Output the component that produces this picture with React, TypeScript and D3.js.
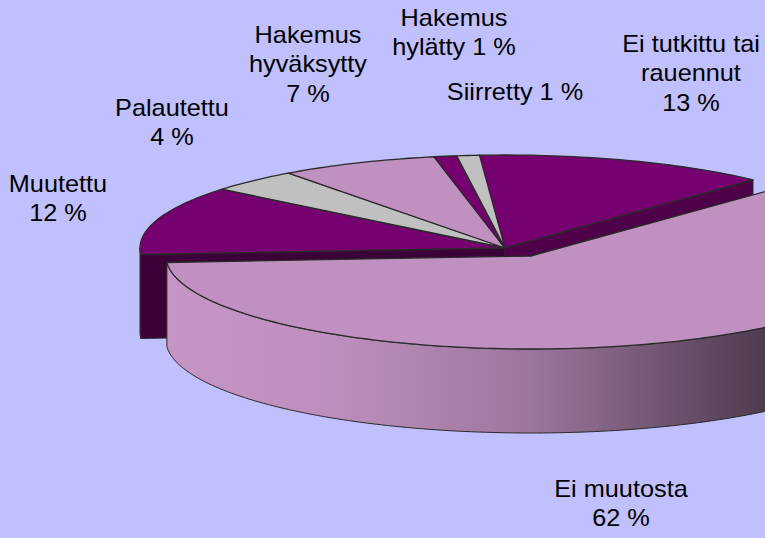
import React, { useEffect } from 'react';
import * as d3 from 'd3';

// slices, clockwise from the top
const categories = ['Ei tutkittu tai rauennut', 'Ei muutosta', 'Muutettu', 'Palautettu', 'Hakemus hyväksytty', 'Hakemus hylätty', 'Siirretty'];
const values = [13, 62, 12, 4, 7, 1, 1];
const labelLines = [
  ['Ei tutkittu tai', 'rauennut', '13 %'],
  ['Ei muutosta', '62 %'],
  ['Muutettu', '12 %'],
  ['Palautettu', '4 %'],
  ['Hakemus', 'hyväksytty', '7 %'],
  ['Hakemus', 'hylätty 1 %'],
  ['Siirretty 1 %'],
];
const sliceColors = ['#770070', '#C090C0', '#770070', '#C0C0C0', '#C090C0', '#770070', '#C0C0C0'];
const exploded = 'Ei muutosta';

// layout
const W = 765, H = 538;
const cx = 505, cy = 248, rx = 365, ry = 93, depth = 84;
const startDeg = -4;
const explodeOffset = { dx: 26, dy: 8 };
const labelPos = [
  { x: 691, y: 52 },
  { x: 621, y: 497 },
  { x: 58, y: 192 },
  { x: 172, y: 116 },
  { x: 308, y: 43 },
  { x: 454, y: 26 },
  { x: 515, y: 100 },
];
const lineGap = 29.5;

const rad = (d: number) => (d * Math.PI) / 180;

const App: React.FC = () => {
  useEffect(() => {
    document.body.style.margin = '0';
  }, []);

  const pie = d3.pie<number>().sort(null).startAngle(rad(startDeg)).endAngle(rad(360 + startDeg));
  const arcs = pie(values);
  const line = d3.line();

  const pt = (a: number, ox: number, oy: number, dz = 0): [number, number] =>
    [cx + ox + rx * Math.sin(a), cy + oy - ry * Math.cos(a) + dz];

  const arcPts = (a0: number, a1: number, ox: number, oy: number, dz = 0) => {
    const n = Math.max(2, Math.ceil(Math.abs(a1 - a0) / 0.02));
    return d3.range(n + 1).map(i => pt(a0 + ((a1 - a0) * i) / n, ox, oy, dz));
  };

  const topPath = (a0: number, a1: number, ox: number, oy: number) =>
    line([[cx + ox, cy + oy], ...arcPts(a0, a1, ox, oy)])! + 'Z';

  const rimPath = (a0: number, a1: number, ox: number, oy: number) => {
    const lo = Math.max(a0, Math.PI / 2);
    const hi = Math.min(a1, (3 * Math.PI) / 2);
    if (lo >= hi) return null;
    return line([...arcPts(lo, hi, ox, oy), ...arcPts(hi, lo, ox, oy, depth)])! + 'Z';
  };

  const wallPath = (a: number, ox: number, oy: number) => {
    const [x, y] = pt(a, ox, oy);
    return line([[cx + ox, cy + oy], [x, y], [x, y + depth], [cx + ox, cy + oy + depth]])! + 'Z';
  };

  const stroke = '#2a2a2a';
  const n = arcs.length;
  const exIdx = categories.indexOf(exploded);

  const backWalls: React.ReactNode[] = [];
  const backTops: React.ReactNode[] = [];
  arcs.forEach((a, i) => {
    if (i === exIdx) return;
    const c = sliceColors[i];
    const rim = rimPath(a.startAngle, a.endAngle, 0, 0);
    if (rim) backWalls.push(<path key={`r${i}`} d={rim} fill={d3.color(c)!.darker(1.5).toString()} stroke={stroke} strokeWidth={1} />);
    if ((i + n - 1) % n === exIdx && Math.sin(a.startAngle) < 0)
      backWalls.push(<path key={`ws${i}`} d={wallPath(a.startAngle, 0, 0)} fill={d3.color(c)!.darker(2).toString()} stroke={stroke} strokeWidth={1} />);
    if ((i + 1) % n === exIdx && Math.sin(a.endAngle) > 0)
      backWalls.push(<path key={`we${i}`} d={wallPath(a.endAngle, 0, 0)} fill={d3.color(c)!.darker(1.2).toString()} stroke={stroke} strokeWidth={1} />);
    backTops.push(<path key={`t${i}`} d={topPath(a.startAngle, a.endAngle, 0, 0)} fill={c} stroke={stroke} strokeWidth={1.3} strokeLinejoin="round" />);
  });

  const ex = arcs[exIdx];
  const { dx, dy } = explodeOffset;
  const exRim = rimPath(ex.startAngle, ex.endAngle, dx, dy);
  const gx0 = cx + dx - rx, gx1 = cx + dx + rx;
  const rimStops = [
    { o: 0, c: '#C595C5' },
    { o: 0.22, c: '#BE8FBE' },
    { o: 0.5, c: '#9C769C' },
    { o: 0.82, c: '#4F3B4F' },
    { o: 1, c: '#3A2A3A' },
  ];

  return (
    <svg width={W} height={H} style={{ display: 'block' }} fontFamily="'Liberation Sans', Arial, sans-serif">
      <defs>
        <linearGradient id="rimGrad" gradientUnits="userSpaceOnUse" x1={gx0} y1={0} x2={gx1} y2={0}>
          {rimStops.map(s => <stop key={s.o} offset={s.o} stopColor={s.c} />)}
        </linearGradient>
      </defs>
      <rect width={W} height={H} fill="#C0C0FF" />
      <g>{backWalls}</g>
      <g>{backTops}</g>
      <g>
        {exRim && <path d={exRim} fill="url(#rimGrad)" stroke={stroke} strokeWidth={1} />}
        <path d={topPath(ex.startAngle, ex.endAngle, dx, dy)} fill={sliceColors[exIdx]} stroke={stroke} strokeWidth={1.3} strokeLinejoin="round" />
      </g>
      <g fontSize={23} fill="#000" textAnchor="middle">
        {labelLines.map((lines, i) => (
          <g key={categories[i]} transform={`translate(${labelPos[i].x},${labelPos[i].y}) scale(1.1,1)`}>
            {lines.map((t, j) => (
              <text key={j} x={0} y={j * lineGap}>{t}</text>
            ))}
          </g>
        ))}
      </g>
    </svg>
  );
};

export default App;
